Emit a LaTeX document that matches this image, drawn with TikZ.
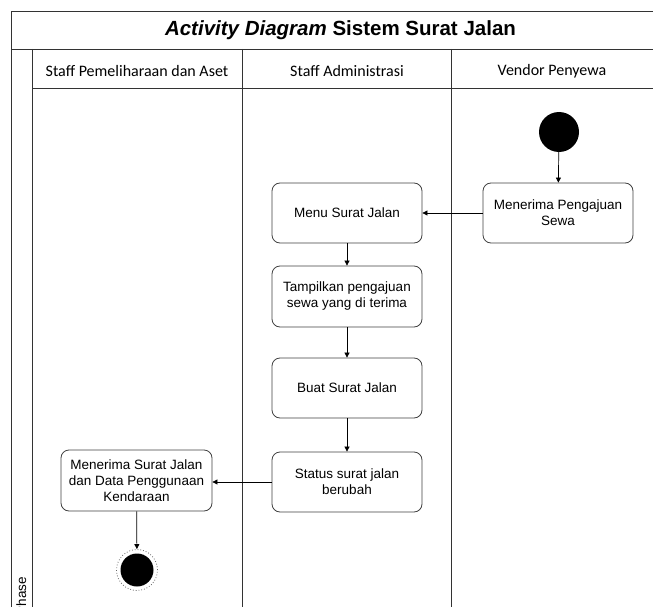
\documentclass[tikz,border=0pt]{standalone}
\usepackage{fontspec}
\setmainfont{Liberation Sans}
\newfontfamily\hdrfont{Carlito}
\usetikzlibrary{arrows.meta}
\tikzset{
  frameline/.style={draw=black!80, line width=0.8pt},
  actbox/.style={draw=black!75, line width=0.8pt, fill=white, rounded corners=8pt,
    minimum width=150pt, minimum height=60pt, align=center, inner sep=2pt,
    font=\fontsize{13.5}{16}\selectfont},
  lanehdr/.style={font=\hdrfont\fontsize{16}{19}\selectfont, inner sep=0pt},
  flow/.style={draw=black, line width=0.7pt, -{Triangle[length=5pt,width=5pt]}},
  startnode/.style={circle, fill=black, minimum size=40pt, inner sep=0pt},
}
\begin{document}
\begin{tikzpicture}[x=1pt,y=-1pt]
\useasboundingbox (0,0) rectangle (653,607);
\clip (0,0) rectangle (653,607);
% frame
\draw[frameline] (11,620) -- (11,11) -- (660,11);
\draw[frameline] (11,49) -- (660,49);
\draw[frameline] (32,49) -- (32,620);
\draw[frameline] (32,88) -- (660,88);
\draw[frameline] (242,49) -- (242,620);
\draw[frameline] (451.5,49) -- (451.5,620);
\node[font=\bfseries\fontsize{20.5}{24}\selectfont, inner sep=0pt] (title) at (340.5,30) {\textit{Activity Diagram} Sistem Surat Jalan};
\node[lanehdr] (h1) at (137,71) {Staff Pemeliharaan dan Aset};
\node[lanehdr] (h2) at (347,71) {Staff Administrasi};
\node[lanehdr] (h3) at (552,71) {Vendor Penyewa};
\node[rotate=90, anchor=base east, font=\fontsize{13.5}{16}\selectfont, inner sep=0pt] (phase) at (26,577) {Phase};
% nodes
\node[startnode] (start) at (559,132) {};
\node[actbox] (vend) at (558,213) {Menerima Pengajuan\\Sewa};
\node[actbox] (menu) at (347,213) {Menu Surat Jalan};
\node[actbox, minimum height=61pt] (tamp) at (347,296.5) {Tampilkan pengajuan\\sewa yang di terima};
\node[actbox] (buat) at (347,388) {Buat Surat Jalan};
\node[actbox] (stat) at (347,482) {Status surat jalan\\berubah};
\node[actbox, minimum width=151pt, minimum height=61pt] (terima) at (136.5,480.5) {Menerima Surat Jalan\\dan Data Penggunaan\\Kendaraan};
\node[circle, draw=black!60, dotted, line width=0.8pt, minimum size=41pt, inner sep=0pt] (end) at (137,570) {};
\node[circle, fill=black, minimum size=33pt, inner sep=0pt] (endcore) at (end.center) {};
% flows
\draw[flow] (start) -- (vend);
\draw[flow] (vend) -- (menu);
\draw[flow] (menu) -- (tamp);
\draw[flow] (tamp) -- (buat);
\draw[flow] (buat) -- (stat);
\draw[flow] (stat.west) -- (terima.east |- stat.west);
\draw[flow] (terima) -- (end);
\end{tikzpicture}
\end{document}
